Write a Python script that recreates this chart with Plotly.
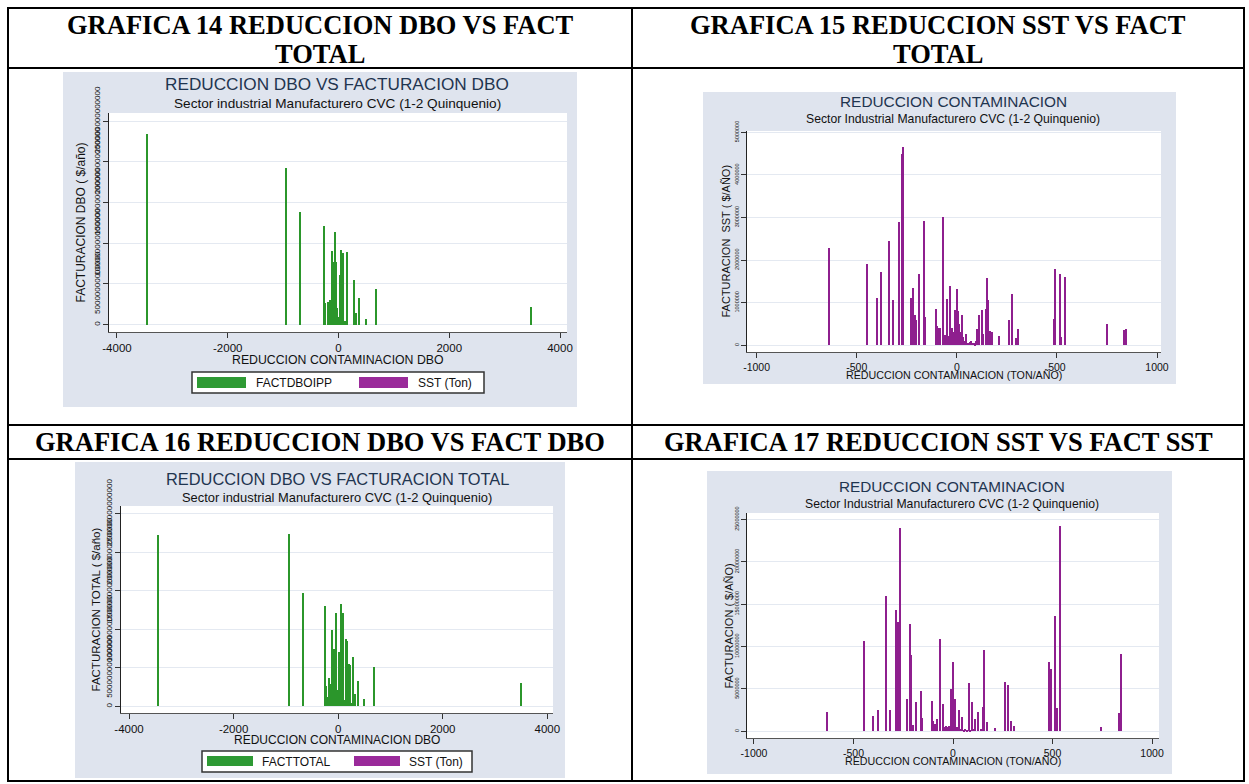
import plotly.graph_objects as go

# ---------------- DATA ----------------
# Grafica 14: Reduccion DBO vs Facturacion DBO (FACTDBOIPP)
red_dbo_14 = [-3446, -946, -687, -253, -241, -187, -151, -109, -85, -70, -60, -50, -40, -30, -20,
              -130, -120, -100, -95, -75, -65, -45, -35, -25, -15, -5, 10, 20, 55, 65, 75, 110, 120,
              30, 42, 90, 150, 163, 283, 320, 373, 494, 681, 3482]
fact_dbo_14 = [23.4e13, 19.3e13, 13.9e13, 12.15e13, 2.65e13, 2.8e13, 3.05e13, 9.05e13, 7.75e13, 1.75e13,
               11.4e13, 7.75e13, 1.5e13, 1.25e13, 2.0e13,
               1.2e13, 1.4e13, 1.6e13, 0.9e13, 1.1e13, 1.3e13, 1.5e13, 0.8e13, 1.2e13, 0.6e13, 0.9e13,
               0.7e13, 0.5e13, 0.6e13, 0.4e13, 0.5e13, 0.3e13, 0.4e13,
               6.15e13, 9.2e13, 8.75e13, 7.35e13, 8.95e13, 5.45e13, 1.45e13, 3.3e13, 0.75e13, 4.4e13, 2.15e13]

# Grafica 15: Reduccion SST vs Facturacion SST
red_sst_15 = [-637, -446, -399, -377, -339, -317, -287, -275, -267, -230, -218, -210, -202, -187, -162,
              -158, -105, -100, -91, -85, -66, -58, -49, -36, -24, -8, -1, 6, 13, 28, 46,
              -45, -40, -30, -20, -15, -12, -5, 0, 3, 8, 16, 20, 24, 33, 38, 55, 60, 65, 80, 90, 105,
              71, 96, 100, 111, 125, 130, 148, 151, 156, 166, 175, 212, 262, 277, 294, 307,
              484, 493, 515, 523, 540, 749, 836, 848]
fact_sst_15 = [2.28e6, 1.90e6, 1.12e6, 1.73e6, 2.44e6, 1.06e6, 2.89e6, 4.50e6, 4.65e6, 1.10e6, 1.34e6,
               0.70e6, 0.58e6, 1.67e6, 2.91e6, 0.67e6, 0.84e6, 0.45e6, 0.40e6, 0.41e6, 3.00e6, 0.23e6,
               1.08e6, 1.40e6, 0.40e6, 0.82e6, 1.33e6, 0.80e6, 0.49e6, 0.72e6, 0.27e6,
               0.18e6, 0.22e6, 0.25e6, 0.30e6, 0.20e6, 0.15e6, 0.28e6, 0.22e6, 0.30e6, 0.18e6, 0.25e6,
               0.30e6, 0.12e6, 0.20e6, 0.10e6, 0.06e6, 0.05e6, 0.07e6, 0.05e6, 0.04e6, 0.08e6,
               0.09e6, 0.11e6, 0.37e6, 0.70e6, 0.82e6, 0.27e6, 0.84e6, 1.58e6, 1.06e6, 0.33e6, 0.31e6,
               0.21e6, 0.58e6, 1.21e6, 0.18e6, 0.37e6,
               0.62e6, 1.79e6, 1.67e6, 0.19e6, 1.59e6, 0.50e6, 0.35e6, 0.39e6]

# Grafica 16: Reduccion DBO vs Facturacion total (FACTTOTAL)
red_dbo_16 = [-3438, -933, -677, -243, -230, -179, -153, -108, -83, -64, -45, -32, -13, 6, 26, 51, 70,
              90, 102, 128, 154, 173, 217, 230, 275, 294, 332, 383, 505, 697, 3495,
              -200, -140, -120, -95, -75, -55, -40, -20, -5, 15, 35, 60, 80, 115, 140]
fact_total_16 = [22.25e13, 22.35e13, 14.7e13, 13.05e13, 2.6e13, 3.7e13, 2.95e13, 9.95e13, 7.45e13,
                 2.4e13, 12.1e13, 10.15e13, 2.15e13, 2.15e13, 7.0e13, 13.3e13, 2.15e13, 2.4e13,
                 12.1e13, 0.8e13, 8.75e13, 8.5e13, 5.5e13, 5.4e13, 0.45e13, 6.4e13, 1.6e13, 3.25e13,
                 0.95e13, 5.1e13, 3.05e13,
                 1.2e13, 1.5e13, 1.0e13, 1.3e13, 1.6e13, 0.9e13, 1.1e13, 1.4e13, 0.8e13, 1.0e13,
                 0.6e13, 0.9e13, 0.7e13, 0.5e13, 0.4e13]

# Grafica 17: Reduccion SST vs Facturacion (SST)
red_sst_17 = [-635, -446, -399, -377, -338, -317, -286, -275, -265, -231, -218, -209, -201, -186, -161,
              -156, -106, -99, -90, -82, -65, -48, -8, 2, 10, 30, 45, 80, 97, 110, 126, 152, 156, 169,
              172, 211, 261, 275, 291, 306, 482, 492, 512, 522, 537, 745, 832, 844,
              -40, -35, -30, -25, -20, -15, -10, -5, 5, 15, 20, 25, 35, 40, 55, 60, 70, 85, 105, 140]
fact_sst_17 = [2.25e6, 10.7e6, 1.85e6, 2.55e6, 16.0e6, 2.55e6, 14.25e6, 12.9e6, 23.95e6, 3.8e6, 12.65e6,
               8.95e6, 0.75e6, 3.45e6, 4.7e6, 1.55e6, 3.55e6, 1.2e6, 0.85e6, 1.4e6, 10.9e6, 3.2e6,
               5.0e6, 8.15e6, 3.75e6, 2.5e6, 1.7e6, 5.7e6, 3.45e6, 1.45e6, 2.3e6, 2.85e6, 9.6e6,
               1.05e6, 1.05e6, 0.35e6, 5.8e6, 5.4e6, 1.2e6, 0.65e6, 8.2e6, 7.35e6, 13.55e6, 2.75e6,
               24.2e6, 0.55e6, 2.15e6, 9.1e6,
               0.5e6, 0.6e6, 0.4e6, 0.55e6, 0.6e6, 0.45e6, 0.7e6, 0.5e6, 0.6e6, 0.55e6, 0.4e6,
               0.45e6, 0.3e6, 0.25e6, 0.2e6, 0.25e6, 0.15e6, 0.2e6, 0.25e6, 0.3e6]

# tick values / labels
x_ticks_dbo = [-4000, -2000, 0, 2000, 4000]
x_text_dbo = ["-4000", "-2000", "0", "2000", "4000"]
x_ticks_sst = [-1000, -500, 0, 500, 1000]
x_text_sst = ["-1000", "-500", "0", "500", "1000"]
y_ticks_dbo = [0, 5e13, 10e13, 15e13, 20e13, 25e13]
y_text_dbo = ["0", "50000000000000", "100000000000000", "150000000000000", "200000000000000", "250000000000000"]
y_ticks_15 = [0, 1e6, 2e6, 3e6, 4e6, 5e6]
y_text_15 = ["0", "1000000", "2000000", "3000000", "4000000", "5000000"]
y_ticks_17 = [0, 5e6, 10e6, 15e6, 20e6, 25e6]
y_text_17 = ["0", "5000000", "10000000", "15000000", "20000000", "25000000"]

header_lines = [["GRAFICA 14 REDUCCION DBO VS FACT", "TOTAL"], ["GRAFICA 15 REDUCCION SST VS FACT", "TOTAL"],
                ["GRAFICA 16 REDUCCION DBO VS FACT DBO"], ["GRAFICA 17 REDUCCION SST VS FACT SST"]]

# ---------------- LAYOUT HELPERS ----------------
W, H = 1249, 784
def fx(x): return x / W
def fy(y): return 1 - y / H

GREEN = "#2b962b"
PURPLE = "#8e1f8e"
BG = "#dfe4ee"
GRID = "#e4e9f1"
TITLE_C = "#1f3550"
FONT = "Liberation Sans, Arial, sans-serif"

fig = go.Figure()

fig.add_trace(go.Bar(x=red_dbo_14, y=fact_dbo_14, width=28, marker=dict(color=GREEN, line=dict(width=0)),
                     xaxis="x", yaxis="y", showlegend=False))
fig.add_trace(go.Bar(x=red_sst_15, y=fact_sst_15, width=6, marker=dict(color=PURPLE, line=dict(width=0)),
                     xaxis="x2", yaxis="y2", showlegend=False))
fig.add_trace(go.Bar(x=red_dbo_16, y=fact_total_16, width=28, marker=dict(color=GREEN, line=dict(width=0)),
                     xaxis="x3", yaxis="y3", showlegend=False))
fig.add_trace(go.Bar(x=red_sst_17, y=fact_sst_17, width=6, marker=dict(color=PURPLE, line=dict(width=0)),
                     xaxis="x4", yaxis="y4", showlegend=False))

charts = [
    dict(gray=(63, 72, 577, 407), plot=(109, 113, 567, 332), xr=(-4144, 4126), yr=(-0.9e13, 26e13),
         xt=x_ticks_dbo, xtt=x_text_dbo, yt=y_ticks_dbo, ytt=y_text_dbo, yfs=8,
         title="REDUCCION DBO VS FACTURACION DBO", tfs=17.2, ty=84, tx=337,
         sub="Sector industrial Manufacturero CVC (1-2 Quinquenio)", sfs=13.6, sy=103,
         xtitle="REDUCCION CONTAMINACION DBO", xtfs=12.3, xty=360, xtfs_t=11.5,
         ytitle="FACTURACION DBO ( $/año)", ytx=81, ytfs=12),
    dict(gray=(703, 92, 1176, 384), plot=(747, 131, 1161, 352), xr=(-1048, 1020), yr=(-0.16e6, 5.03e6),
         xt=x_ticks_sst, xtt=x_text_sst, yt=y_ticks_15, ytt=y_text_15, yfs=5.5,
         title="REDUCCION CONTAMINACION", tfs=15.4, ty=101, tx=953,
         sub="Sector Industrial Manufacturero CVC (1-2 Quinquenio)", sfs=12.2, sy=119,
         xtitle="REDUCCION CONTAMINACION (TON/AÑO)", xtfs=10.7, xty=375, xtfs_t=10.5,
         ytitle="FACTURACION  SST ( $/AÑO)", ytx=725, ytfs=11),
    dict(gray=(75, 462, 565, 778), plot=(121, 506, 553, 713), xr=(-4153, 4109), yr=(-0.85e13, 26e13),
         xt=x_ticks_dbo, xtt=x_text_dbo, yt=y_ticks_dbo, ytt=y_text_dbo, yfs=8,
         title="REDUCCION DBO VS FACTURACION TOTAL", tfs=16.4, ty=479, tx=337,
         sub="Sector industrial Manufacturero CVC (1-2 Quinquenio)", sfs=12.9, sy=497,
         xtitle="REDUCCION CONTAMINACION DBO", xtfs=12, xty=740, xtfs_t=11.5,
         ytitle="FACTURACION TOTAL ( $/año)", ytx=95, ytfs=11.5),
    dict(gray=(707, 471, 1172, 774), plot=(747, 513, 1159, 738), xr=(-1035, 1035), yr=(-0.8e6, 25.75e6),
         xt=x_ticks_sst, xtt=x_text_sst, yt=y_ticks_17, ytt=y_text_17, yfs=5.5,
         title="REDUCCION CONTAMINACION", tfs=15.3, ty=486, tx=952,
         sub="Sector Industrial Manufacturero CVC (1-2 Quinquenio)", sfs=12.2, sy=504,
         xtitle="REDUCCION CONTAMINACION (TON/AÑO)", xtfs=10.7, xty=761, xtfs_t=10.5,
         ytitle="FACTURACION ( $/AÑO)", ytx=728, ytfs=11),
]

shapes = []
annotations = []
layout_axes = {}
for i, c in enumerate(charts):
    sfx = "" if i == 0 else str(i + 1)
    gx0, gy0, gx1, gy1 = c["gray"]
    px0, py0, px1, py1 = c["plot"]
    shapes.append(dict(type="rect", xref="paper", yref="paper", x0=fx(gx0), x1=fx(gx1), y0=fy(gy1), y1=fy(gy0),
                       fillcolor=BG, line=dict(width=0), layer="below"))
    shapes.append(dict(type="rect", xref="paper", yref="paper", x0=fx(px0), x1=fx(px1), y0=fy(py1), y1=fy(py0),
                       fillcolor="white", line=dict(width=0), layer="below"))
    layout_axes["xaxis" + sfx] = dict(domain=[fx(px0), fx(px1)], anchor="y" + sfx, range=list(c["xr"]),
                                      tickvals=c["xt"], ticktext=c["xtt"], ticks="outside", ticklen=5,
                                      tickcolor="#333", showgrid=False, zeroline=False, showline=True,
                                      linecolor="#555", linewidth=1, automargin=False,
                                      tickfont=dict(family=FONT, size=c["xtfs_t"], color="#111"))
    layout_axes["yaxis" + sfx] = dict(domain=[fy(py1), fy(py0)], anchor="x" + sfx, range=list(c["yr"]),
                                      tickvals=c["yt"], ticktext=c["ytt"], tickangle=-90, ticks="outside",
                                      ticklen=5, tickcolor="#333", showgrid=True, gridcolor=GRID, gridwidth=1,
                                      zeroline=False, showline=True, linecolor="#222", linewidth=1,
                                      automargin=False,
                                      tickfont=dict(family=FONT, size=c["yfs"], color="#111"))
    annotations.append(dict(text=c["title"], x=fx(c["tx"]), y=fy(c["ty"]), xref="paper", yref="paper",
                            showarrow=False, xanchor="center", yanchor="middle",
                            font=dict(family=FONT, size=c["tfs"], color=TITLE_C)))
    annotations.append(dict(text=c["sub"], x=fx(c["tx"]), y=fy(c["sy"]), xref="paper", yref="paper",
                            showarrow=False, xanchor="center", yanchor="middle",
                            font=dict(family=FONT, size=c["sfs"], color="#111")))
    annotations.append(dict(text=c["xtitle"], x=fx((px0 + px1) / 2), y=fy(c["xty"]), xref="paper", yref="paper",
                            showarrow=False, xanchor="center", yanchor="middle",
                            font=dict(family=FONT, size=c["xtfs"], color="#111")))
    annotations.append(dict(text=c["ytitle"], x=fx(c["ytx"]), y=fy((py0 + py1) / 2), xref="paper", yref="paper",
                            showarrow=False, xanchor="center", yanchor="middle", textangle=-90,
                            font=dict(family=FONT, size=c["ytfs"], color="#111")))

legends = [
    dict(box=(192, 372, 484, 393), sw1=(197, 377, 246, 388), t1=("FACTDBOIPP", 254), sw2=(359, 377, 408, 388), t2=("SST (Ton)", 416)),
    dict(box=(202, 751, 472, 772), sw1=(207, 756, 253, 766), t1=("FACTTOTAL", 260), sw2=(354, 756, 400, 766), t2=("SST (Ton)", 407)),
]
for lg in legends:
    bx0, by0, bx1, by1 = lg["box"]
    shapes.append(dict(type="rect", xref="paper", yref="paper", x0=fx(bx0), x1=fx(bx1), y0=fy(by1), y1=fy(by0),
                       fillcolor="white", line=dict(color="#333", width=1.5)))
    for sw, col in ((lg["sw1"], "#2e9a34"), (lg["sw2"], "#9a2a9a")):
        shapes.append(dict(type="rect", xref="paper", yref="paper", x0=fx(sw[0]), x1=fx(sw[2]), y0=fy(sw[3]), y1=fy(sw[1]),
                           fillcolor=col, line=dict(width=0)))
    ymid = (by0 + by1) / 2
    for txt, tx in (lg["t1"], lg["t2"]):
        annotations.append(dict(text=txt, x=fx(tx), y=fy(ymid), xref="paper", yref="paper", showarrow=False,
                                xanchor="left", yanchor="middle", font=dict(family=FONT, size=12, color="#111")))

for y in (8, 68, 425, 459, 781):
    shapes.append(dict(type="line", xref="paper", yref="paper", x0=fx(7), x1=fx(1245), y0=fy(y), y1=fy(y),
                       line=dict(color="black", width=2)))
for x in (8, 632, 1244):
    shapes.append(dict(type="line", xref="paper", yref="paper", x0=fx(x), x1=fx(x), y0=fy(8), y1=fy(781),
                       line=dict(color="black", width=2)))

hpos = [(320, [25, 54]), (938, [25, 54]), (320, [442]), (938, [442])]
for lines, (hx, hys) in zip(header_lines, hpos):
    for txt, hy in zip(lines, hys):
        annotations.append(dict(text="<b>" + txt + "</b>", x=fx(hx), y=fy(hy),
                                xref="paper", yref="paper", showarrow=False, xanchor="center", yanchor="middle",
                                font=dict(family="Liberation Serif, Times New Roman, serif", size=26.5,
                                          color="black")))

fig.update_layout(width=W, height=H, margin=dict(l=0, r=0, t=0, b=0, pad=0, autoexpand=False),
                  paper_bgcolor="white",
                  plot_bgcolor="rgba(0,0,0,0)", shapes=shapes, annotations=annotations, showlegend=False,
                  bargap=0, **layout_axes)

fig.write_html("out.html", config={"displayModeBar": False},
               post_script="document.body.style.margin='0';document.body.style.overflow='hidden';")
